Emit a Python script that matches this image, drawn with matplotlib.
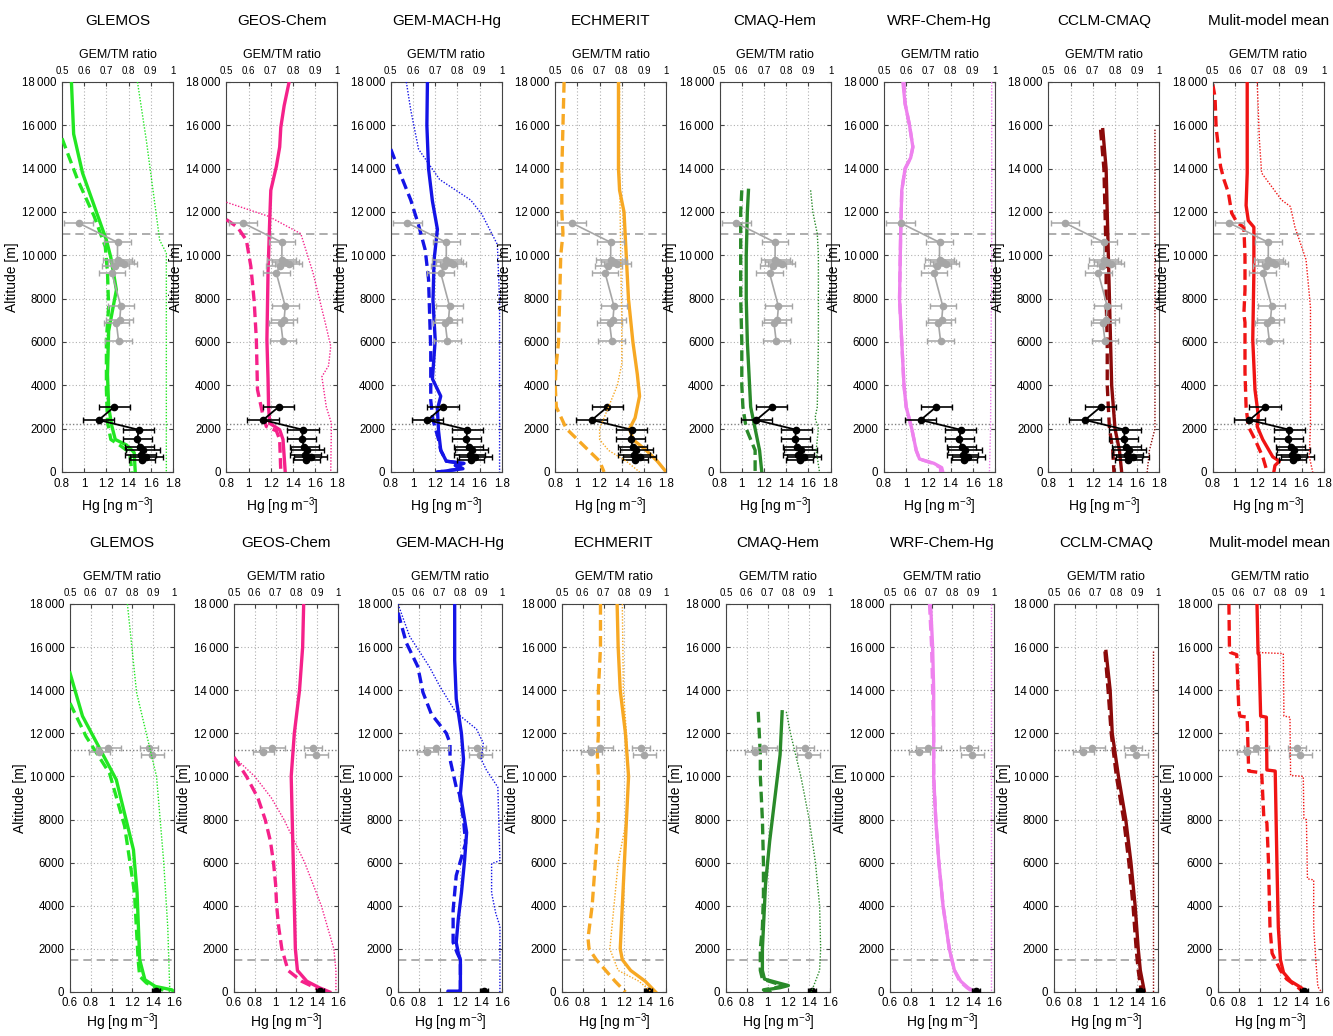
import numpy as np
import matplotlib
matplotlib.use("Agg")
import matplotlib.pyplot as plt
from matplotlib.ticker import FuncFormatter

plt.rcParams['font.family'] = ['Liberation Sans', 'DejaVu Sans']
plt.rcParams['mathtext.fontset'] = 'custom'
plt.rcParams['mathtext.rm'] = 'Liberation Sans'
plt.rcParams['mathtext.default'] = 'regular'

models = ['GLEMOS', 'GEOS-Chem', 'GEM-MACH-Hg', 'ECHMERIT', 'CMAQ-Hem',
          'WRF-Chem-Hg', 'CCLM-CMAQ', 'Mulit-model mean']
colors = ['#22e622', '#f5218a', '#1414e6', '#f7a823', '#2a8a2a',
          '#ee82ee', '#8b0a0a', '#f01414']

# ---------------- Top row (campaign A): (altitude m, value) ----------------
glemos_a_tm = [(18000,0.885),(15600,0.905),(13800,0.985),(12000,1.11),(10700,1.2),(9900,1.24),(8400,1.29),(7600,1.26),(6500,1.22),(4500,1.21),(3000,1.22),(2100,1.25),(1500,1.28),(1250,1.38),(900,1.45),(0,1.46)]
glemos_a_gem = [(15400,0.8),(13500,0.94),(11800,1.09),(10400,1.19),(9200,1.21),(7600,1.22),(6100,1.2),(3800,1.2),(2300,1.21),(1500,1.24),(1200,1.33),(900,1.41),(0,1.43)]
glemos_a_ratio = [(18000,0.84),(15300,0.88),(13000,0.91),(10700,0.94),(10100,0.97),(0,0.97)]

geos_a_tm = [(18000,1.365),(16900,1.32),(15900,1.29),(15000,1.28),(14100,1.25),(13000,1.2),(11600,1.19),(9200,1.175),(6100,1.165),(4300,1.175),(3000,1.18),(2250,1.19),(1950,1.28),(1500,1.31),(0,1.33)]
geos_a_gem = [(11650,0.8),(11300,0.9),(10700,0.98),(9500,1.02),(7900,1.05),(6100,1.07),(3800,1.08),(2600,1.13),(2100,1.16),(1900,1.25),(1500,1.28),(0,1.29)]
geos_a_ratio = [(12450,0.5),(11800,0.69),(11000,0.835),(9200,0.89),(6900,0.945),(5800,0.97),(4900,0.96),(4400,0.93),(3000,0.95),(2250,0.973),(0,0.97)]

gemmach_a_tm = [(18000,1.13),(16000,1.125),(14000,1.14),(12500,1.175),(11200,1.22),(9800,1.19),(7900,1.18),(6100,1.2),(4300,1.175),(3500,1.25),(2900,1.22),(1900,1.23),(1000,1.25),(800,1.27),(500,1.3),(400,1.46),(300,1.4),(150,1.45),(50,1.3),(0,1.22)]
gemmach_a_gem = [(14900,0.8),(13700,0.89),(12550,0.98),(11400,1.05),(10250,1.11),(8900,1.14),(5600,1.16),(3300,1.16),(2400,1.18),(1500,1.23),(1000,1.25),(800,1.27),(500,1.3),(400,1.44),(300,1.38),(150,1.43),(50,1.3),(0,1.22)]
gemmach_a_ratio = [(18000,0.57),(16700,0.59),(14900,0.625),(13500,0.72),(12550,0.86),(11900,0.91),(11200,0.945),(10500,0.98),(7900,0.99),(0,0.99)]

echmerit_a_tm = [(18000,1.37),(16000,1.37),(14000,1.37),(13000,1.38),(12000,1.42),(10000,1.44),(8000,1.46),(6000,1.5),(4500,1.54),(3500,1.56),(2500,1.52),(2000,1.47),(1500,1.5),(1000,1.62),(500,1.72),(0,1.8)]
echmerit_a_gem = [(18000,0.88),(16000,0.87),(14000,0.86),(12000,0.86),(11000,0.87),(10000,0.85),(8000,0.84),(6000,0.83),(5000,0.81),(4000,0.8),(3000,0.81),(2000,0.9),(1500,1.0),(1000,1.1),(500,1.2),(0,1.24)]
echmerit_a_ratio = [(18000,0.79),(14000,0.79),(10000,0.795),(7000,0.8),(5000,0.8),(4000,0.78),(3000,0.74),(2000,0.7),(1500,0.7),(1000,0.74),(500,0.82),(0,0.88)]

cmaq_a_tm = [(13000,1.06),(12000,1.05),(10000,1.04),(8000,1.04),(6000,1.05),(4000,1.07),(3000,1.08),(2000,1.12),(1000,1.16),(0,1.18)]
cmaq_a_gem = [(13000,1.0),(12000,0.99),(10000,0.99),(8000,0.99),(6000,1.0),(4000,1.0),(3000,1.01),(2000,1.04),(1000,1.12),(0,1.12)]
cmaq_a_ratio = [(13000,0.91),(12000,0.92),(11000,0.94),(10000,0.945),(6000,0.945),(3000,0.94),(2500,0.93),(2000,0.945),(1000,0.935),(0,0.95)]

wrf_a_tm = [(18000,0.97),(17000,0.99),(16000,1.03),(15000,1.06),(14500,1.04),(14000,0.99),(13000,0.96),(11000,0.95),(8000,0.94),(6000,0.96),(4000,0.98),(3000,1.0),(2000,1.05),(1000,1.09),(600,1.12),(400,1.25),(200,1.32),(0,1.33)]
wrf_a_gem = [(18000,0.98),(17000,0.99),(16000,1.03),(15000,1.06),(14500,1.04),(14000,0.99),(13000,0.96),(11000,0.95),(8000,0.94),(6000,0.96),(4000,0.98),(3000,1.0),(2000,1.05),(1000,1.09),(600,1.12),(400,1.24),(200,1.31),(0,1.31)]
wrf_a_ratio = [(18000,0.985),(10000,0.985),(2000,0.98),(0,0.975)]

cclm_a_tm = [(15800,1.29),(14000,1.32),(12000,1.33),(10000,1.34),(8000,1.35),(6000,1.36),(4000,1.37),(2000,1.40),(1000,1.44),(0,1.46)]
cclm_a_gem = [(15800,1.27),(14000,1.3),(12000,1.31),(10000,1.32),(8000,1.32),(6000,1.33),(4000,1.33),(2000,1.35),(1000,1.38),(0,1.39)]
cclm_a_ratio = [(15800,0.98),(2000,0.98),(1000,0.955),(0,0.945)]

mmm_a_tm = [(18000,1.11),(13800,1.11),(12300,1.10),(11600,1.12),(11300,1.17),(9200,1.17),(6100,1.16),(3800,1.18),(2600,1.21),(2100,1.2),(1500,1.25),(700,1.34),(500,1.40),(300,1.36),(0,1.35)]
mmm_a_gem = [(17900,0.8),(17300,0.82),(15900,0.83),(15000,0.85),(14100,0.87),(13500,0.9),(12900,0.94),(11950,0.97),(11500,1.02),(11300,1.08),(9950,1.09),(8400,1.09),(7300,1.08),(6900,1.09),(4600,1.09),(3000,1.1),(2100,1.12),(1500,1.18),(700,1.25),(0,1.29)]
mmm_a_ratio = [(18000,0.70),(15300,0.71),(13800,0.72),(12550,0.81),(12250,0.85),(11300,0.87),(9800,0.92),(7600,0.94),(4600,0.94),(2250,0.94),(700,0.935),(0,0.95)]

# ---------------- Bottom row (campaign B) ----------------
glemos_b_tm = [(14800,0.6),(12800,0.72),(9850,1.045),(6600,1.21),(4600,1.245),(1500,1.27),(570,1.32),(260,1.42),(100,1.58),(0,1.6)]
glemos_b_gem = [(13400,0.6),(11850,0.755),(10150,0.98),(7700,1.125),(4600,1.22),(1500,1.255),(730,1.27),(420,1.335),(190,1.43),(0,1.56)]
glemos_b_ratio = [(18000,0.776),(13900,0.82),(10000,0.916),(6100,0.95),(3000,0.97),(0,0.98)]

geos_b_tm = [(18000,1.27),(16000,1.26),(14000,1.23),(12000,1.18),(10000,1.15),(8000,1.16),(6000,1.17),(4000,1.18),(2000,1.19),(1000,1.21),(500,1.30),(200,1.42),(0,1.52)]
geos_b_gem = [(10900,0.6),(10000,0.72),(9000,0.83),(8000,0.9),(7000,0.95),(6000,0.98),(5000,1.0),(4000,1.01),(3000,1.03),(2000,1.06),(1000,1.12),(500,1.25),(200,1.38),(0,1.45)]
geos_b_ratio = [(10900,0.5),(10000,0.6),(9000,0.68),(8000,0.74),(7000,0.79),(6000,0.84),(5000,0.88),(4000,0.92),(3000,0.95),(2000,0.98),(1000,0.99),(0,0.99)]

gemmach_b_tm = [(18000,1.145),(15400,1.145),(13600,1.16),(12000,1.21),(10800,1.23),(9200,1.2),(8000,1.24),(7400,1.26),(6100,1.24),(4600,1.21),(3400,1.18),(2300,1.16),(1800,1.18),(1500,1.2),(100,1.2),(40,1.2),(40,1.08),(0,1.08)]
gemmach_b_gem = [(17600,0.6),(16200,0.68),(15100,0.79),(13900,0.84),(12900,0.92),(12000,1.065),(11550,1.1),(10800,1.1),(9500,1.16),(9200,1.19),(8000,1.23),(6900,1.25),(5400,1.16),(3800,1.13),(2300,1.13),(1800,1.17),(1500,1.2),(100,1.2)]
gemmach_b_ratio = [(18000,0.5),(16500,0.556),(15100,0.65),(14200,0.70),(13100,0.77),(12800,0.80),(12200,0.877),(11550,0.91),(10800,0.90),(10300,0.925),(9500,0.98),(6100,0.99),(5950,0.95),(4600,0.95),(3650,0.97),(3050,0.99),(0,0.99)]

echmerit_b_tm = [(18000,1.13),(16000,1.14),(14000,1.16),(12000,1.21),(10000,1.24),(8000,1.22),(6000,1.2),(4000,1.18),(3000,1.17),(2000,1.16),(1500,1.18),(1000,1.26),(500,1.4),(0,1.5)]
echmerit_b_gem = [(18000,0.97),(16000,0.97),(14000,0.95),(12000,0.95),(11000,0.94),(10000,0.95),(8000,0.95),(6000,0.92),(4000,0.89),(2500,0.85),(2000,0.86),(1500,0.93),(1000,1.02),(500,1.11),(0,1.21)]
echmerit_b_ratio = [(18000,0.79),(14000,0.795),(12000,0.81),(10000,0.82),(8000,0.81),(6000,0.77),(4000,0.75),(2000,0.73),(1000,0.77),(500,0.87),(0,0.93)]

cmaq_b_tm = [(13000,1.14),(11000,1.12),(9000,1.07),(7000,1.02),(5000,0.98),(3000,0.96),(2000,0.95),(1000,0.95),(600,0.97),(400,1.12),(300,1.2),(200,1.12),(100,0.98),(0,1.02)]
cmaq_b_gem = [(13000,0.91),(12000,0.92),(11000,0.93),(10000,0.93),(9000,0.94),(8000,0.95),(6000,0.96),(4500,0.96),(3000,0.95),(2000,0.93),(1000,0.93),(600,0.95),(400,1.08),(300,1.15),(200,1.08),(100,0.96),(0,1.0)]
cmaq_b_ratio = [(13000,0.79),(12000,0.81),(10000,0.86),(8000,0.9),(6000,0.93),(4000,0.95),(2000,0.955),(1000,0.95),(0,0.91)]

wrf_b_tm = [(18000,0.99),(17000,1.0),(16000,1.01),(14000,1.02),(12000,1.02),(10000,1.02),(8000,1.04),(6000,1.07),(4000,1.11),(2000,1.17),(1000,1.22),(500,1.28),(200,1.35),(0,1.42)]
wrf_b_gem = [(18000,0.98),(17000,0.99),(16000,1.0),(14000,1.01),(12000,1.02),(10000,1.02),(8000,1.04),(6000,1.07),(4000,1.11),(2000,1.17),(1000,1.22),(500,1.27),(200,1.34),(0,1.4)]
wrf_b_ratio = [(18000,0.985),(0,0.985)]

cclm_b_tm = [(15800,1.1),(14000,1.14),(12000,1.16),(10000,1.22),(8000,1.29),(6000,1.34),(4000,1.38),(2000,1.41),(1000,1.43),(0,1.47)]
cclm_b_gem = [(15800,1.09),(14000,1.12),(12000,1.15),(10000,1.2),(8000,1.27),(6000,1.32),(4000,1.36),(2000,1.39),(1000,1.41),(0,1.44)]
cclm_b_ratio = [(15800,0.975),(0,0.975)]

mmm_b_tm = [(18000,0.975),(15700,0.985),(15650,0.995),(12800,1.01),(12750,1.065),(10300,1.07),(10250,1.15),(6400,1.165),(5200,1.17),(3000,1.18),(1500,1.2),(900,1.23),(500,1.3),(200,1.4),(0,1.45)]
mmm_b_gem = [(18000,0.705),(16000,0.71),(15750,0.72),(15650,0.78),(13100,0.80),(12800,0.81),(12750,0.88),(10250,0.895),(10170,1.02),(8150,1.04),(7850,1.07),(6100,1.085),(3000,1.10),(1800,1.12),(1500,1.15),(1000,1.2),(600,1.26),(250,1.36),(0,1.42)]
mmm_b_ratio = [(18000,0.687),(15750,0.695),(15700,0.814),(12800,0.817),(12750,0.846),(10050,0.849),(10000,0.91),(8050,0.913),(8000,0.925),(5250,0.93),(5200,0.96),(3050,0.96),(1500,0.97),(250,0.98),(0,0.997)]

# ---------------- Observations: (altitude, Hg, error) ----------------
obs_a_upper = [(11490,0.95,0.13),(10600,1.30,0.12),(9800,1.30,0.13),(9680,1.33,0.12),(9620,1.36,0.12),(9490,1.28,0.12),(9180,1.25,0.12),(7640,1.33,0.12),(7030,1.32,0.12),(6880,1.29,0.11),(6030,1.31,0.12)]
obs_a_lower = [(3000,1.27,0.14),(2400,1.13,0.14),(1950,1.49,0.14),(1520,1.48,0.13),(1150,1.50,0.13),(1000,1.53,0.15),(770,1.51,0.14),(690,1.56,0.15),(540,1.52,0.12)]
obs_b_upper = [(11300,0.97,0.12),(11150,0.88,0.10),(11300,1.36,0.09),(11000,1.39,0.11)]
obs_b_lower = [(50,1.43,0.04)]

row_a = [(glemos_a_tm, glemos_a_gem, glemos_a_ratio), (geos_a_tm, geos_a_gem, geos_a_ratio),
         (gemmach_a_tm, gemmach_a_gem, gemmach_a_ratio), (echmerit_a_tm, echmerit_a_gem, echmerit_a_ratio),
         (cmaq_a_tm, cmaq_a_gem, cmaq_a_ratio), (wrf_a_tm, wrf_a_gem, wrf_a_ratio),
         (cclm_a_tm, cclm_a_gem, cclm_a_ratio), (mmm_a_tm, mmm_a_gem, mmm_a_ratio)]
row_b = [(glemos_b_tm, glemos_b_gem, glemos_b_ratio), (geos_b_tm, geos_b_gem, geos_b_ratio),
         (gemmach_b_tm, gemmach_b_gem, gemmach_b_ratio), (echmerit_b_tm, echmerit_b_gem, echmerit_b_ratio),
         (cmaq_b_tm, cmaq_b_gem, cmaq_b_ratio), (wrf_b_tm, wrf_b_gem, wrf_b_ratio),
         (cclm_b_tm, cclm_b_gem, cclm_b_ratio), (mmm_b_tm, mmm_b_gem, mmm_b_ratio)]

W, H = 1333, 1036
fig = plt.figure(figsize=(W / 100, H / 100), dpi=100)

rows = [
    dict(data=row_a, top=82, bot=472, left0=62, step=164.4, width=111,
         xlim=(0.8, 1.8), xticks=[0.8, 1, 1.2, 1.4, 1.6, 1.8],
         upper=obs_a_upper, lower=obs_a_lower, upper_line=True,
         dashed_ref=11000, dotted_ref=2200, xpad=4, labelpad=4),
    dict(data=row_b, top=604, bot=992, left0=70, step=164.0, width=104,
         xlim=(0.6, 1.6), xticks=[0.6, 0.8, 1, 1.2, 1.4, 1.6],
         upper=obs_b_upper, lower=obs_b_lower, upper_line=False,
         dashed_ref=1500, dotted_ref=11250, xpad=3.5, labelpad=1.5),
]


def fmt_alt(v, pos):
    v = int(round(v))
    if v >= 10000:
        return f"{v // 1000}\u2009{v % 1000:03d}"
    return f"{v}"


def fmt_x(v, pos):
    s = f"{v:.1f}"
    return s[:-2] if s.endswith('.0') else s


def xy(pairs):
    a = np.array(pairs, dtype=float)
    return a[:, 1], a[:, 0]


spine_col = '#444444'
for r in rows:
    for i, (tm, gem, ratio) in enumerate(r['data']):
        left = r['left0'] + r['step'] * i
        ax = fig.add_axes([left / W, 1 - r['bot'] / H, r['width'] / W, (r['bot'] - r['top']) / H])
        col = colors[i]
        ax.set_xlim(*r['xlim'])
        ax.set_ylim(0, 18000)
        ax.set_xticks(r['xticks'])
        ax.set_yticks(np.arange(0, 18001, 2000))
        ax.yaxis.set_major_formatter(FuncFormatter(fmt_alt))
        ax.xaxis.set_major_formatter(FuncFormatter(fmt_x))
        ax.grid(True, linestyle=(0, (1, 2)), color='#b0b0b0', lw=0.8)
        ax.tick_params(direction='in', length=3, labelsize=8.3, right=True, color=spine_col)
        ax.tick_params(axis='x', pad=r['xpad'])
        ax.tick_params(axis='y', pad=4)
        for s in ax.spines.values():
            s.set_color(spine_col)
            s.set_linewidth(0.8)

        # reference lines
        ax.axhline(r['dashed_ref'], color='#a0a0a0', lw=1.2, dashes=(5, 3), zorder=2)
        ax.axhline(r['dotted_ref'], color='#808080', lw=1.0, dashes=(1, 1.5), zorder=2)

        # model lines
        x, y = xy(tm)
        ax.plot(x, y, color=col, lw=2.4, zorder=3, solid_joinstyle='round')
        x, y = xy(gem)
        ax.plot(x, y, color=col, lw=2.4, dashes=(3.2, 1.6), zorder=3)

        # observations
        up = np.array(r['upper'], dtype=float)
        ax.errorbar(up[:, 1], up[:, 0], xerr=up[:, 2], color='#a6a6a6', ecolor='#a6a6a6',
                    marker='o', ms=4.5, lw=1.2 if r['upper_line'] else 0,
                    elinewidth=1.1, capsize=2.5, zorder=4)
        lo = np.array(r['lower'], dtype=float)
        ax.errorbar(lo[:, 1], lo[:, 0], xerr=lo[:, 2], color='black', ecolor='black',
                    marker='o', ms=4.5, lw=1.3, elinewidth=1.2, capsize=2.5, zorder=5)

        ax.set_xlabel('Hg [ng m$^{-3}$]', fontsize=10, labelpad=r['labelpad'])
        ax.set_ylabel('Altitude [m]', fontsize=10, labelpad=2)

        # ratio axis
        ax2 = ax.twiny()
        ax2.set_xlim(0.5, 1.0)
        ax2.set_xticks([0.5, 0.6, 0.7, 0.8, 0.9, 1.0])
        ax2.xaxis.set_major_formatter(FuncFormatter(fmt_x))
        ax2.tick_params(direction='in', length=3, labelsize=7, pad=4, color=spine_col)
        for s in ax2.spines.values():
            s.set_visible(False)
        x, y = xy(ratio)
        ax2.plot(x, y, color=col, lw=1.0, dashes=(1, 1.2), zorder=3)
        ax2.set_xlabel('GEM/TM ratio', fontsize=9, labelpad=6)

        cx = (left + r['width'] / 2) / W
        fig.text(cx, 1 - (r['top'] - 61) / H, models[i], ha='center', va='center', fontsize=11)

fig.savefig('out.png', dpi=100)
